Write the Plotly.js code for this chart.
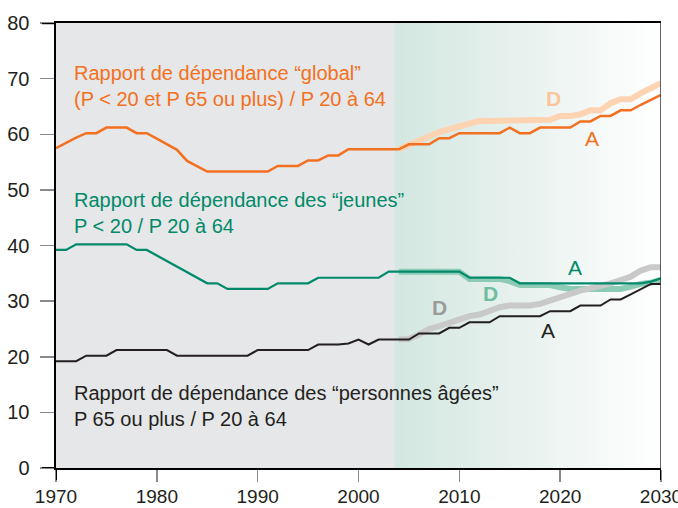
<!DOCTYPE html>
<html>
<head>
<meta charset="utf-8">
<script src="https://cdn.plot.ly/plotly-3.0.1.min.js"></script>
<style>html,body{margin:0;padding:0;background:#fff;}#chart{width:678px;height:508px;}</style>
</head>
<body>
<div id="chart"></div>
<script>
// ---- data ----
const years = [];
for (let y = 1970; y <= 2030; y++) years.push(y);
const projYears = [];
for (let y = 2004; y <= 2030; y++) projYears.push(y);

// Rapport global, scénario A (1970-2030)
const globalA = [57.5,58.5,59.4,60.2,60.2,61.2,61.2,61.2,60.2,60.2,
  59.2,58.2,57.2,55.2,54.2,53.3,53.3,53.3,53.3,53.3,
  53.3,53.3,54.3,54.3,54.3,55.3,55.3,56.2,56.2,57.3,
  57.3,57.3,57.3,57.3,57.3,58.2,58.2,58.2,59.3,59.3,
  60.2,60.2,60.2,60.2,60.2,61.2,60.2,60.2,61.2,61.2,
  61.2,61.2,62.3,62.3,63.3,63.3,64.3,64.3,65.3,66.2,67.1];
// Rapport global, scénario D (2004-2030)
const globalD = [57.3,58.1,58.9,59.6,60.4,60.9,61.4,62.0,62.4,62.4,
  62.4,62.4,62.4,62.4,62.4,62.6,63.3,63.3,63.6,64.3,
  64.3,65.6,66.3,66.3,67.4,68.4,69.2];

// Rapport des jeunes, scénario A
const jeunesA = [39.2,39.2,40.2,40.2,40.2,40.2,40.2,40.2,39.2,39.2,
  38.2,37.2,36.2,35.2,34.2,33.2,33.2,32.2,32.2,32.2,
  32.2,32.2,33.2,33.2,33.2,33.2,34.2,34.2,34.2,34.2,
  34.2,34.2,34.2,35.3,35.3,35.3,35.3,35.3,35.3,35.3,
  35.3,34.2,34.2,34.2,34.2,34.2,33.2,33.2,33.2,33.2,
  33.2,33.2,33.2,33.2,33.2,33.2,33.2,33.2,33.2,33.5,34.1];
// Rapport des jeunes, scénario D
const jeunesD = [35.3,35.3,35.3,35.3,35.3,35.3,35.3,34.0,34.0,34.0,
  34.0,33.6,32.9,32.9,32.9,32.9,32.5,32.2,32.2,32.2,
  32.2,32.2,32.2,32.6,33.1,33.3,33.8];

// Rapport des personnes âgées, scénario A
const agesA = [19.2,19.2,19.2,20.2,20.2,20.2,21.2,21.2,21.2,21.2,
  21.2,21.2,20.2,20.2,20.2,20.2,20.2,20.2,20.2,20.2,
  21.2,21.2,21.2,21.2,21.2,21.2,22.2,22.2,22.2,22.4,
  23.1,22.2,23.1,23.1,23.1,23.1,24.2,24.2,24.2,25.2,
  25.2,26.2,26.2,26.2,27.3,27.3,27.3,27.3,27.3,28.2,
  28.2,28.2,29.2,29.2,29.2,30.3,30.3,31.2,32.2,33.1,33.1];
// Rapport des personnes âgées, scénario D
const agesD = [23.1,23.2,24.0,25.0,25.5,26.1,26.8,27.3,27.6,28.2,
  28.9,29.2,29.2,29.2,29.5,30.1,30.7,31.4,31.9,32.3,
  32.7,33.2,33.8,34.4,35.5,36.1,36.1];

const xTicks = [1970,1980,1990,2000,2010,2020,2030];
const yTicks = [0,10,20,30,40,50,60,70,80];
const shadeStart = 2003.6, xMin = 1970, xMax = 2030, yMin = 0, yMax = 80;

const labelGlobal = "Rapport de dépendance “global”<br>(P < 20 et P 65 ou plus) / P 20 à 64";
const labelJeunes = "Rapport de dépendance des “jeunes”<br>P < 20 / P 20 à 64";
const labelAges = "Rapport de dépendance des “personnes âgées”<br>P 65 ou plus / P 20 à 64";

// ---- styles ----
const ORANGE = '#f37021', ORANGE_L = '#fdd3b2', ORANGE_T = '#fbc59b';
const GREEN = '#008a69', GREEN_L = '#8ecbb4', GREEN_T = '#6fbea0';
const BLACK = '#231f20', GRAY_L = '#c9c9c9', GRAY_T = '#9b9b9b';
const FONT = 'Liberation Sans, Arial, sans-serif';

const traces = [
  { x: [shadeStart, xMax, xMax, shadeStart], y: [yMin, yMin, yMax, yMax],
    type: 'scatter', mode: 'lines', fill: 'toself', line: {width: 0},
    fillgradient: {type: 'horizontal', colorscale: [[0, '#d3e7e1'], [0.5, '#e9f2ef'], [1, '#ffffff']]},
    hoverinfo: 'skip', showlegend: false },
  { x: projYears, y: globalD, mode: 'lines', line: {color: ORANGE_L, width: 6}, showlegend: false },
  { x: projYears, y: jeunesD, mode: 'lines', line: {color: GREEN_L, width: 6}, showlegend: false },
  { x: projYears, y: agesD, mode: 'lines', line: {color: GRAY_L, width: 6}, showlegend: false },
  { x: years, y: globalA, mode: 'lines', line: {color: ORANGE, width: 2.5}, showlegend: false },
  { x: years, y: jeunesA, mode: 'lines', line: {color: GREEN, width: 2.2}, showlegend: false },
  { x: years, y: agesA, mode: 'lines', line: {color: BLACK, width: 2}, showlegend: false }
];

const plotW = 678 - 56 - 17, plotH = 508 - 23 - 40;
const ext = 14 / plotW, tl = 12 / plotH;

const ann = (x, y, text, color, opts) => Object.assign({
  x: x, y: y, xref: 'x', yref: 'y', text: text, showarrow: false,
  font: {family: FONT, size: 20, color: color}
}, opts || {});

const layout = {
  width: 678, height: 508,
  margin: {l: 56, r: 17, t: 23, b: 40, pad: 0},
  paper_bgcolor: '#ffffff', plot_bgcolor: '#e6e7e8',
  showlegend: false,
  xaxis: {
    range: [xMin, xMax], tickvals: xTicks, ticktext: xTicks.map(String),
    ticks: 'outside', ticklen: 12, tickwidth: 1.5, tickcolor: '#8a8a8a',
    showline: true, linecolor: '#000', linewidth: 2, mirror: true,
    showgrid: false, zeroline: false, ticklabelstandoff: -2,
    ticklabeloverflow: 'allow',
    tickfont: {family: 'Liberation Sans Narrow, ' + FONT, size: 19, color: BLACK}
  },
  yaxis: {
    range: [yMin, yMax], tickvals: yTicks, ticktext: yTicks.map(String),
    ticks: 'outside', ticklen: 14, tickwidth: 1.5, tickcolor: '#8a8a8a',
    showline: true, linecolor: '#000', linewidth: 2.5,
    showgrid: false, zeroline: false, ticklabelstandoff: 6,
    ticklabeloverflow: 'allow',
    tickfont: {family: FONT, size: 20, color: BLACK}
  },
  shapes: [
    {type: 'line', xref: 'paper', yref: 'y', x0: -ext, x1: 0, y0: yMax, y1: yMax, line: {color: '#000', width: 2.5}},
    {type: 'line', xref: 'paper', yref: 'y', x0: -ext, x1: 0, y0: yMin, y1: yMin, line: {color: '#000', width: 2}},
    {type: 'line', xref: 'x', yref: 'y', x0: xMax, x1: xMax, y0: yMin, y1: yMax, line: {color: '#333', width: 1.5}},
    {type: 'line', xref: 'x', yref: 'paper', x0: xMin, x1: xMin, y0: 0, y1: -tl, line: {color: '#000', width: 2}},
    {type: 'line', xref: 'x', yref: 'paper', x0: xMax, x1: xMax, y0: 0, y1: -tl, line: {color: '#000', width: 2}}
  ],
  annotations: [
    ann(1971.6, 68.6, labelGlobal, ORANGE, {xanchor: 'left', yanchor: 'middle', align: 'left'}),
    ann(1971.6, 45.9, labelJeunes, GREEN, {xanchor: 'left', yanchor: 'middle', align: 'left'}),
    ann(1971.6, 11.1, labelAges, BLACK, {xanchor: 'left', yanchor: 'middle', align: 'left'}),
    ann(2019.3, 66.5, '<b>D</b>', ORANGE_T, {font: {family: FONT, size: 21, color: ORANGE_T}}),
    ann(2023.2, 59.3, 'A', ORANGE, {font: {family: FONT, size: 21, color: ORANGE}}),
    ann(2021.5, 36.0, 'A', GREEN, {font: {family: FONT, size: 21, color: GREEN}}),
    ann(2013.1, 31.3, '<b>D</b>', GREEN_T, {font: {family: FONT, size: 21, color: GREEN_T}}),
    ann(2008.0, 28.9, '<b>D</b>', GRAY_T, {font: {family: FONT, size: 21, color: GRAY_T}}),
    ann(2018.8, 24.8, 'A', BLACK, {font: {family: FONT, size: 21, color: BLACK}})
  ]
};

Plotly.newPlot('chart', traces, layout, {staticPlot: true, displayModeBar: false});
</script>
</body>
</html>
